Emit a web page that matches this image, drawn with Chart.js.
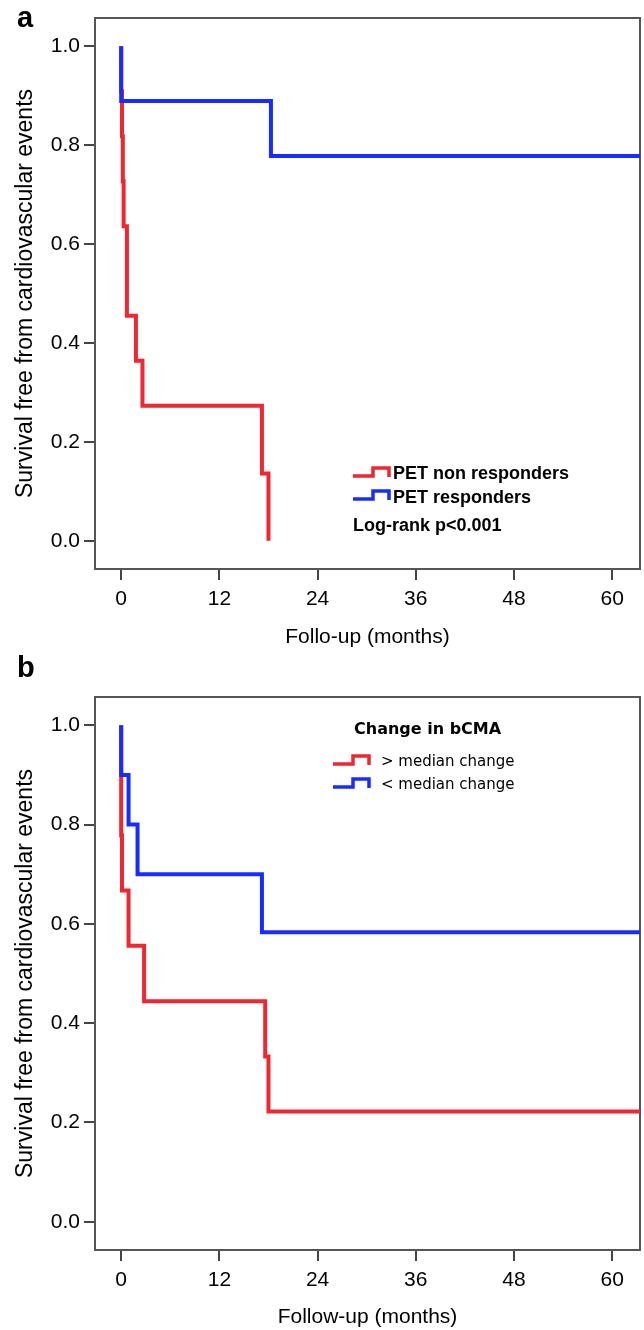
<!DOCTYPE html>
<html>
<head>
<meta charset="utf-8">
<script src="https://cdn.jsdelivr.net/npm/chart.js@4.4.1/dist/chart.umd.min.js"></script>
<style>
  body { margin: 0; background: #fff; }
  canvas { display: block; }
</style>
</head>
<body>
<canvas id="chartA" width="644" height="650"></canvas>
<canvas id="chartB" width="644" height="680"></canvas>
<script>
// ticks
var monthTicks = [0, 12, 24, 36, 48, 60];
var survTicks = [0, 0.2, 0.4, 0.6, 0.8, 1.0];

// panel a - PET
var aRespTime = [0, 0, 18.3, 64];
var aRespSurv = [1.0, 0.889, 0.778, 0.778];
var aNonRespTime = [0, 0, 0.1, 0.2, 0.3, 0.7, 1.8, 2.6, 17.2, 18.0];
var aNonRespSurv = [1.0, 0.909, 0.818, 0.727, 0.636, 0.455, 0.364, 0.273, 0.136, 0.0];

// panel b - change in bCMA
var bBelowTime = [0, 0, 0.9, 2.0, 17.2, 64];
var bBelowSurv = [1.0, 0.9, 0.8, 0.7, 0.583, 0.583];
var bAboveTime = [0, 0, 0, 0.1, 0.9, 2.8, 17.6, 18.0, 64];
var bAboveSurv = [1.0, 0.889, 0.778, 0.667, 0.556, 0.444, 0.333, 0.222, 0.222];

var RED = 'rgb(240,38,48)';
var BLUE = 'rgb(24,44,255)';

Chart.defaults.font.family = "'Liberation Sans', Arial, sans-serif";
Chart.defaults.color = '#000';

function pts(t, s) {
    return t.map(function (v, i) { return { x: v, y: s[i] }; });
}

function line(label, t, s, color) {
    return {
        label: label,
        data: pts(t, s),
        borderColor: color,
        backgroundColor: color,
        borderWidth: 4,
        pointRadius: 0,
        stepped: true,
        fill: false
    };
}

function stepIcon(ctx, x, y, color) {
    ctx.save();
    ctx.strokeStyle = color;
    ctx.lineWidth = 3.5;
    ctx.beginPath();
    ctx.moveTo(x, y);
    ctx.lineTo(x + 20, y);
    ctx.lineTo(x + 20, y - 8);
    ctx.lineTo(x + 36, y - 8);
    ctx.lineTo(x + 36, y + 1);
    ctx.stroke();
    ctx.restore();
}

var framePlugin = {
    id: 'frame',
    beforeDatasetsDraw: function (chart) {
        var a = chart.chartArea, ctx = chart.ctx;
        ctx.save();
        ctx.strokeStyle = '#555';
        ctx.lineWidth = 2;
        ctx.strokeRect(a.left, a.top, a.right - a.left, a.bottom - a.top);
        ctx.restore();
    }
};

function makeOptions(xTitle, topPad, xHeight) {
    return {
        responsive: false,
        animation: false,
        layout: { padding: { top: topPad, right: 4, left: 0, bottom: 0 } },
        plugins: { legend: { display: false }, tooltip: { enabled: false } },
        scales: {
            x: {
                type: 'linear',
                min: -3.2,
                max: 63.4,
                afterBuildTicks: function (s) { s.ticks = monthTicks.map(function (v) { return { value: v }; }); },
                afterFit: function (s) { s.height = xHeight; },
                border: { display: false },
                grid: { drawOnChartArea: false, drawTicks: true, tickLength: 11, color: '#444', lineWidth: 2 },
                ticks: { font: { size: 21 }, padding: 7, maxRotation: 0, color: '#000' },
                title: { display: true, text: xTitle, font: { size: 21 }, color: '#000', padding: { top: 0, bottom: 0 } }
            },
            y: {
                min: -0.057,
                max: 1.057,
                afterBuildTicks: function (s) { s.ticks = survTicks.map(function (v) { return { value: v }; }); },
                afterFit: function (s) { s.width = 95; },
                border: { display: false },
                grid: { drawOnChartArea: false, drawTicks: true, tickLength: 11, color: '#444', lineWidth: 2 },
                ticks: { font: { size: 21 }, padding: 4, color: '#000', callback: function (v) { return Number(v).toFixed(1); } },
                title: { display: true, text: 'Survival free from cardiovascular events', font: { size: 23 }, color: '#000', padding: { top: 12, bottom: 0 } }
            }
        }
    };
}

var chartA = new Chart(document.getElementById('chartA').getContext('2d'), {
    type: 'line',
    data: {
        datasets: [
            line('PET responders', aRespTime, aRespSurv, BLUE),
            line('PET non responders', aNonRespTime, aNonRespSurv, RED)
        ]
    },
    options: makeOptions('Follo-up (months)', 18, 81),
    plugins: [framePlugin, {
        id: 'legendA',
        afterDraw: function (chart) {
            var ctx = chart.ctx;
            ctx.save();
            ctx.fillStyle = '#000';
            ctx.font = "bold 29px 'Liberation Sans', Arial";
            ctx.textBaseline = 'alphabetic';
            ctx.fillText('a', 17, 27);
            stepIcon(ctx, 353, 476, RED);
            stepIcon(ctx, 353, 499, BLUE);
            ctx.font = "bold 18px 'Liberation Sans', Arial";
            ctx.textBaseline = 'middle';
            ctx.fillText('PET non responders', 393, 474);
            ctx.fillText('PET responders', 393, 498);
            ctx.fillText('Log-rank p<0.001', 353, 526);
            ctx.restore();
        }
    }]
});

var chartB = new Chart(document.getElementById('chartB').getContext('2d'), {
    type: 'line',
    data: {
        datasets: [
            line('< median change', bBelowTime, bBelowSurv, BLUE),
            line('> median change', bAboveTime, bAboveSurv, RED)
        ]
    },
    options: makeOptions('Follow-up (months)', 47, 80),
    plugins: [framePlugin, {
        id: 'legendB',
        afterDraw: function (chart) {
            var ctx = chart.ctx;
            ctx.save();
            ctx.fillStyle = '#000';
            ctx.font = "bold 29px 'Liberation Sans', Arial";
            ctx.textBaseline = 'alphabetic';
            ctx.fillText('b', 17, 27);
            ctx.textBaseline = 'middle';
            ctx.font = "bold 16px 'DejaVu Sans'";
            ctx.fillText('Change in bCMA', 354, 80);
            stepIcon(ctx, 333, 114, RED);
            stepIcon(ctx, 333, 137, BLUE);
            ctx.font = "15px 'DejaVu Sans'";
            ctx.fillText('> median change', 381, 112);
            ctx.fillText('< median change', 381, 135);
            ctx.restore();
        }
    }]
});
</script>
</body>
</html>
